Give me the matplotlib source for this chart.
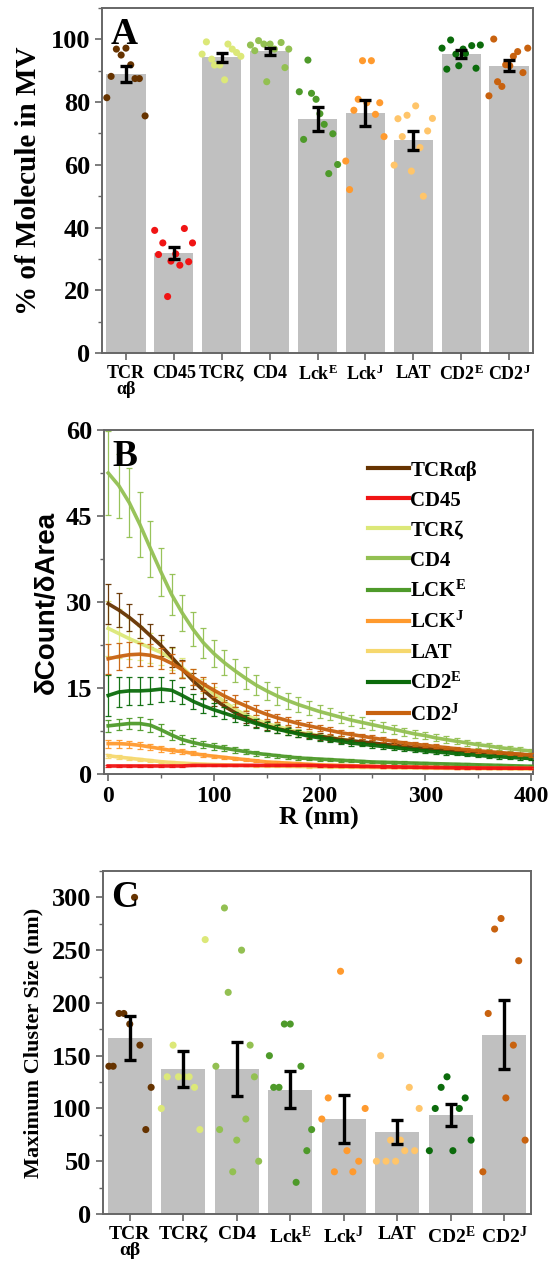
import numpy as np
import matplotlib
matplotlib.use("Agg")
import matplotlib.pyplot as plt
from matplotlib.ticker import MultipleLocator
from matplotlib.lines import Line2D

plt.rcParams['font.family'] = ['Liberation Serif', 'DejaVu Serif']
plt.rcParams['font.weight'] = 'bold'
plt.rcParams['mathtext.fontset'] = 'custom'
plt.rcParams['mathtext.rm'] = 'Liberation Serif:bold'
plt.rcParams['mathtext.it'] = 'Liberation Serif:bold'
plt.rcParams['mathtext.bf'] = 'Liberation Serif:bold'
plt.rcParams['mathtext.default'] = 'rm'

# ---------------- colours ----------------
col_TCRab = '#663300'
col_CD45 = '#F01414'
col_TCRz = '#DCE878'
col_CD4 = '#93C052'
col_LckE = '#4E9A2A'
col_LckJ = '#FF9A2E'
col_LAT = '#FFC56A'
col_CD2E = '#0B6B0B'
col_CD2J = '#C8620F'
BAR_GREY = '#C0C0C0'
SPINE = '#666666'

# ---------------- Panel A data ----------------
A_labels = ["TCR\nαβ", "CD45", "TCRζ", "CD4", "Lck$^E$", "Lck$^J$", "LAT", "CD2$^E$", "CD2$^J$"]
A_colors = [col_TCRab, col_CD45, col_TCRz, col_CD4, col_LckE, col_LckJ, col_LAT, col_CD2E, col_CD2J]
A_means = [89.0, 31.8, 94.3, 96.2, 74.6, 76.6, 67.8, 95.3, 91.6]
A_sem = [2.6, 1.9, 1.4, 1.2, 3.7, 4.1, 3.0, 1.3, 1.7]

A_pts_TCRab = [81.4, 88.2, 96.9, 95.0, 97.2, 91.9, 87.5, 87.5, 75.6]
A_jit_TCRab = [-0.40, -0.31, -0.20, -0.10, 0.0, 0.10, 0.19, 0.28, 0.40]
A_pts_CD45 = [39.1, 31.4, 35.1, 18.0, 29.3, 31.6, 28.0, 39.7, 29.1, 35.1]
A_jit_CD45 = [-0.40, -0.32, -0.23, -0.13, -0.06, 0.04, 0.125, 0.22, 0.31, 0.39]
A_pts_TCRz = [95.3, 99.2, 93.7, 91.8, 91.8, 87.1, 98.5, 96.9, 95.8, 94.6]
A_jit_TCRz = [-0.41, -0.32, -0.21, -0.15, -0.04, 0.06, 0.13, 0.22, 0.31, 0.40]
A_pts_CD4 = [98.2, 96.4, 99.6, 98.5, 86.5, 98.5, 96.9, 99.0, 91.0, 96.9]
A_jit_CD4 = [-0.40, -0.31, -0.23, -0.12, -0.06, 0.01, 0.10, 0.24, 0.32, 0.40]
A_pts_LckE = [83.3, 68.1, 93.4, 82.8, 80.9, 76.3, 72.9, 57.2, 69.9, 60.1]
A_jit_LckE = [-0.38, -0.29, -0.20, -0.125, -0.03, 0.05, 0.14, 0.235, 0.32, 0.42]
A_pts_LckJ = [61.2, 52.1, 77.4, 80.9, 93.2, 79.8, 93.2, 76.1, 79.8, 69.0]
A_jit_LckJ = [-0.41, -0.33, -0.24, -0.15, -0.06, 0.03, 0.125, 0.21, 0.30, 0.39]
A_pts_LAT = [59.9, 74.7, 69.0, 75.8, 58.0, 78.8, 65.5, 50.0, 70.8, 74.8]
A_jit_LAT = [-0.40, -0.32, -0.23, -0.13, -0.04, 0.05, 0.14, 0.21, 0.30, 0.40]
A_pts_CD2E = [97.2, 90.5, 99.8, 95.3, 91.6, 96.9, 95.5, 98.0, 90.8, 98.2]
A_jit_CD2E = [-0.40, -0.30, -0.22, -0.11, -0.05, 0.04, 0.09, 0.22, 0.31, 0.40]
A_pts_CD2J = [82.0, 100.1, 86.5, 85.0, 91.9, 91.6, 94.6, 96.1, 89.4, 97.2]
A_jit_CD2J = [-0.42, -0.32, -0.24, -0.15, -0.07, 0.015, 0.09, 0.18, 0.29, 0.39]

A_points = [A_pts_TCRab, A_pts_CD45, A_pts_TCRz, A_pts_CD4, A_pts_LckE,
            A_pts_LckJ, A_pts_LAT, A_pts_CD2E, A_pts_CD2J]
A_jitter = [A_jit_TCRab, A_jit_CD45, A_jit_TCRz, A_jit_CD4, A_jit_LckE,
            A_jit_LckJ, A_jit_LAT, A_jit_CD2E, A_jit_CD2J]

# ---------------- Panel B data ----------------
R_nm = list(range(0, 401, 10))
B_names = ["TCRαβ", "CD45", "TCRζ", "CD4", "LCK$^E$", "LCK$^J$", "LAT", "CD2$^E$", "CD2$^J$"]
B_colors = [col_TCRab, col_CD45, col_TCRz, col_CD4, col_LckE, col_LckJ, '#F6D86E', col_CD2E, col_CD2J]
B_zorder = [2.4, 3.5, 2.3, 2.2, 2.6, 2.7, 2.5, 2.8, 2.9]

B_TCRab = [29.7, 28.6, 27.3, 25.8, 24.1, 22.4, 20.4, 18.3, 16.3, 14.6,
           13.1, 11.8, 10.7, 9.8, 9.0, 8.4, 7.9, 7.5, 7.1, 6.8,
           6.6, 6.3, 6.0, 5.8, 5.6, 5.4, 5.2, 5.0, 4.8, 4.6,
           4.5, 4.3, 4.2, 4.1, 3.9, 3.8, 3.7, 3.6, 3.5, 3.4, 3.3]
B_TCRab_err = [3.5, 3.0, 2.4, 2.1, 2.0, 1.8, 1.7, 1.5, 1.4, 1.3,
               1.2, 1.1, 1.0, 0.9, 0.85, 0.8, 0.75, 0.7, 0.65, 0.6,
               0.6, 0.55, 0.55, 0.5, 0.5, 0.45, 0.45, 0.45, 0.4, 0.4,
               0.4, 0.4, 0.35, 0.35, 0.35, 0.35, 0.3, 0.3, 0.3, 0.3, 0.3]
B_CD45 = [1.4, 1.4, 1.4, 1.4, 1.4, 1.4, 1.4, 1.4, 1.5, 1.5,
          1.5, 1.5, 1.5, 1.5, 1.5, 1.5, 1.5, 1.5, 1.5, 1.5,
          1.45, 1.4, 1.38, 1.35, 1.32, 1.3, 1.27, 1.24, 1.21, 1.18,
          1.15, 1.13, 1.11, 1.09, 1.07, 1.05, 1.04, 1.03, 1.02, 1.01, 1.0]
B_CD45_err = [0.15] * 41
B_TCRz = [25.4, 24.5, 23.6, 22.8, 22.0, 21.2, 20.1, 18.6, 16.9, 15.3,
          14.0, 12.6, 11.3, 10.3, 9.5, 8.8, 8.3, 7.8, 7.3, 7.0,
          6.7, 6.4, 6.1, 5.8, 5.5, 5.3, 5.1, 4.9, 4.7, 4.5,
          4.3, 4.1, 4.0, 3.9, 3.8, 3.6, 3.5, 3.4, 3.3, 3.2, 3.1]
B_TCRz_err = [4.8, 4.2, 3.6, 3.0, 2.6, 2.2, 1.9, 1.6, 1.4, 1.2,
              1.1, 1.0, 0.9, 0.8, 0.75, 0.7, 0.65, 0.6, 0.55, 0.5,
              0.5, 0.45, 0.45, 0.4, 0.4, 0.4, 0.35, 0.35, 0.35, 0.3,
              0.3, 0.3, 0.3, 0.3, 0.25, 0.25, 0.25, 0.25, 0.25, 0.25, 0.25]
B_CD4 = [52.5, 50.3, 47.3, 43.5, 39.3, 35.2, 31.3, 28.1, 25.3, 22.9,
         21.0, 19.4, 18.0, 16.7, 15.5, 14.5, 13.6, 12.8, 12.1, 11.5,
         10.9, 10.4, 9.9, 9.4, 9.0, 8.6, 8.2, 7.8, 7.4, 7.0,
         6.7, 6.3, 6.0, 5.7, 5.4, 5.1, 4.9, 4.6, 4.4, 4.2, 4.0]
B_CD4_err = [7.3, 5.6, 6.0, 5.6, 4.9, 4.2, 3.6, 3.1, 2.9, 2.6,
             2.4, 2.2, 2.0, 1.9, 1.7, 1.6, 1.5, 1.4, 1.3, 1.2,
             1.1, 1.05, 1.0, 0.95, 0.9, 0.85, 0.8, 0.75, 0.7, 0.7,
             0.65, 0.6, 0.6, 0.55, 0.55, 0.5, 0.5, 0.45, 0.45, 0.45, 0.4]
B_LckE = [8.4, 8.6, 8.8, 8.8, 8.5, 7.7, 6.8, 6.0, 5.5, 5.1,
          4.8, 4.5, 4.2, 3.9, 3.6, 3.4, 3.2, 3.0, 2.8, 2.7,
          2.6, 2.5, 2.4, 2.3, 2.2, 2.1, 2.05, 2.0, 1.95, 1.9,
          1.85, 1.8, 1.75, 1.7, 1.65, 1.6, 1.55, 1.5, 1.45, 1.4, 1.35]
B_LckE_err = [1.0, 1.0, 1.0, 1.1, 1.1, 1.0, 0.9, 0.8, 0.7, 0.6,
              0.55, 0.5, 0.45, 0.4, 0.4, 0.35, 0.35, 0.3, 0.3, 0.3,
              0.25, 0.25, 0.25, 0.25, 0.25, 0.25, 0.25, 0.25, 0.25, 0.25,
              0.2, 0.2, 0.2, 0.2, 0.2, 0.2, 0.2, 0.2, 0.2, 0.2, 0.2]
B_LckJ = [5.3, 5.3, 5.2, 5.0, 4.7, 4.4, 4.1, 3.9, 3.6, 3.3,
          3.1, 2.9, 2.7, 2.5, 2.3, 2.1, 2.0, 1.9, 1.8, 1.7,
          1.6, 1.55, 1.5, 1.45, 1.4, 1.35, 1.3, 1.27, 1.24, 1.21,
          1.18, 1.15, 1.12, 1.1, 1.08, 1.06, 1.04, 1.02, 1.0, 1.0, 1.0]
B_LckJ_err = [0.7, 0.7, 0.6, 0.6, 0.55, 0.5, 0.45, 0.4, 0.35, 0.3,
              0.3, 0.25, 0.25, 0.25, 0.25, 0.25, 0.25, 0.25, 0.25, 0.25,
              0.2, 0.2, 0.2, 0.2, 0.2, 0.2, 0.2, 0.2, 0.2, 0.2,
              0.15, 0.15, 0.15, 0.15, 0.15, 0.15, 0.15, 0.15, 0.15, 0.15, 0.15]
B_LAT = [3.2, 2.95, 2.75, 2.55, 2.35, 2.15, 2.0, 1.9, 1.8, 1.72,
         1.65, 1.6, 1.55, 1.5, 1.45, 1.4, 1.37, 1.34, 1.31, 1.28,
         1.25, 1.22, 1.2, 1.18, 1.16, 1.14, 1.12, 1.1, 1.08, 1.06,
         1.04, 1.02, 1.0, 0.98, 0.96, 0.95, 0.94, 0.93, 0.92, 0.91, 0.9]
B_LAT_err = [0.35, 0.3, 0.3, 0.25, 0.25, 0.2, 0.2, 0.2, 0.15, 0.15,
             0.15, 0.15, 0.15, 0.15, 0.15, 0.15, 0.15, 0.15, 0.15, 0.15,
             0.1, 0.1, 0.1, 0.1, 0.1, 0.1, 0.1, 0.1, 0.1, 0.1,
             0.1, 0.1, 0.1, 0.1, 0.1, 0.1, 0.1, 0.1, 0.1, 0.1, 0.1]
B_CD2E = [13.7, 14.3, 14.5, 14.5, 14.6, 14.8, 14.6, 13.7, 12.7, 11.9,
          11.2, 10.6, 10.0, 9.4, 8.8, 8.3, 7.8, 7.4, 7.0, 6.6,
          6.3, 6.0, 5.7, 5.4, 5.2, 5.0, 4.8, 4.6, 4.4, 4.2,
          4.0, 3.85, 3.7, 3.55, 3.4, 3.25, 3.1, 3.0, 2.9, 2.8, 2.7]
B_CD2E_err = [3.5, 2.6, 2.5, 2.4, 2.4, 2.2, 1.8, 1.5, 1.3, 1.2,
              1.1, 1.0, 0.9, 0.85, 0.8, 0.75, 0.7, 0.65, 0.6, 0.55,
              0.5, 0.5, 0.45, 0.45, 0.4, 0.4, 0.4, 0.35, 0.35, 0.35,
              0.3, 0.3, 0.3, 0.3, 0.3, 0.3, 0.3, 0.3, 0.3, 0.3, 0.3]
B_CD2J = [20.1, 20.5, 20.8, 20.9, 20.7, 20.2, 19.3, 18.2, 16.9, 15.7,
          14.6, 13.6, 12.7, 11.9, 11.1, 10.4, 9.8, 9.3, 8.8, 8.4,
          8.0, 7.6, 7.2, 6.9, 6.6, 6.3, 6.0, 5.7, 5.4, 5.2,
          5.0, 4.8, 4.6, 4.4, 4.2, 4.05, 3.9, 3.75, 3.6, 3.45, 3.3]
B_CD2J_err = [2.6, 2.4, 2.2, 2.0, 1.9, 1.8, 1.6, 1.5, 1.4, 1.3,
              1.2, 1.1, 1.0, 0.9, 0.85, 0.8, 0.75, 0.7, 0.65, 0.6,
              0.55, 0.55, 0.5, 0.5, 0.45, 0.45, 0.4, 0.4, 0.4, 0.35,
              0.35, 0.35, 0.3, 0.3, 0.3, 0.3, 0.3, 0.3, 0.3, 0.3, 0.3]

B_series = [B_TCRab, B_CD45, B_TCRz, B_CD4, B_LckE, B_LckJ, B_LAT, B_CD2E, B_CD2J]
B_errors = [B_TCRab_err, B_CD45_err, B_TCRz_err, B_CD4_err, B_LckE_err,
            B_LckJ_err, B_LAT_err, B_CD2E_err, B_CD2J_err]

# ---------------- Panel C data ----------------
C_labels = ["TCR\nαβ", "TCRζ", "CD4", "Lck$^E$", "Lck$^J$", "LAT", "CD2$^E$", "CD2$^J$"]
C_colors = [col_TCRab, col_TCRz, col_CD4, col_LckE, col_LckJ, col_LAT, col_CD2E, col_CD2J]
C_means = [166.7, 137.8, 137.3, 117.8, 90.0, 78.0, 93.8, 170.0]
C_sem = [21.0, 17.0, 25.5, 17.7, 22.5, 11.3, 10.0, 32.8]

C_pts_TCRab = [140, 140, 190, 190, 180, 300, 160, 80, 120]
C_jit_TCRab = [-0.39, -0.31, -0.20, -0.11, 0.0, 0.09, 0.19, 0.30, 0.40]
C_pts_TCRz = [100, 130, 160, 130, 130, 130, 120, 80, 260]
C_jit_TCRz = [-0.41, -0.30, -0.19, -0.09, 0.02, 0.11, 0.21, 0.31, 0.41]
C_pts_CD4 = [140, 80, 290, 210, 40, 70, 250, 90, 160, 130, 50]
C_jit_CD4 = [-0.39, -0.32, -0.23, -0.16, -0.075, 0.0, 0.09, 0.17, 0.25, 0.33, 0.41]
C_pts_LckE = [150, 120, 120, 180, 180, 30, 140, 60, 80]
C_jit_LckE = [-0.39, -0.31, -0.21, -0.11, 0.0, 0.11, 0.20, 0.31, 0.40]
C_pts_LckJ = [90, 110, 40, 230, 60, 40, 50, 100]
C_jit_LckJ = [-0.41, -0.29, -0.175, -0.06, 0.06, 0.17, 0.28, 0.40]
C_pts_LAT = [50, 150, 50, 70, 50, 70, 60, 120, 60, 100]
C_jit_LAT = [-0.39, -0.31, -0.21, -0.125, -0.03, 0.06, 0.14, 0.225, 0.325, 0.41]
C_pts_CD2E = [60, 100, 120, 130, 60, 100, 110, 70]
C_jit_CD2E = [-0.40, -0.29, -0.18, -0.07, 0.04, 0.16, 0.27, 0.38]
C_pts_CD2J = [40, 190, 270, 280, 110, 160, 240, 70]
C_jit_CD2J = [-0.40, -0.30, -0.18, -0.06, 0.03, 0.17, 0.27, 0.39]

C_points = [C_pts_TCRab, C_pts_TCRz, C_pts_CD4, C_pts_LckE, C_pts_LckJ,
            C_pts_LAT, C_pts_CD2E, C_pts_CD2J]
C_jitter = [C_jit_TCRab, C_jit_TCRz, C_jit_CD4, C_jit_LckE, C_jit_LckJ,
            C_jit_LAT, C_jit_CD2E, C_jit_CD2J]

# ---------------- figure ----------------
W, H = 551, 1266
fig = plt.figure(figsize=(W / 100, H / 100), dpi=100)
axA = fig.add_axes([102 / W, 1 - 353 / H, 431 / W, 345 / H])
axB = fig.add_axes([104 / W, 1 - 774 / H, 429 / W, 344 / H])
axC = fig.add_axes([103 / W, 1 - 1214 / H, 428 / W, 343 / H])


def style_axes(ax):
    for s in ax.spines.values():
        s.set_color(SPINE)
        s.set_linewidth(1.4)
    ax.tick_params(which='major', direction='out', length=5, width=1.2, color=SPINE)
    ax.tick_params(which='minor', direction='out', length=3, width=1.0, color=SPINE)
    ax.tick_params(top=False, right=False)


def bar_panel(ax, labels, colors, means, sem, points, jitter, ymax, ymaj, ymin_, xfs):
    x = np.arange(len(labels))
    ax.bar(x, means, width=0.82, color=BAR_GREY, zorder=1)
    for i in range(len(labels)):
        ax.scatter(x[i] + np.array(jitter[i]), points[i], s=26, color=colors[i],
                   edgecolors='none', zorder=2)
    ax.errorbar(x, means, yerr=sem, fmt='none', ecolor='black', elinewidth=2.4,
                capsize=4, capthick=2.4, zorder=3)
    ax.set_xlim(-0.5, len(labels) - 0.5)
    ax.set_ylim(0, ymax)
    ax.set_xticks(x)
    ax.set_xticklabels(labels, fontsize=xfs, fontweight='bold', linespacing=0.95)
    ax.yaxis.set_major_locator(MultipleLocator(ymaj))
    ax.yaxis.set_minor_locator(MultipleLocator(ymin_))
    for t in ax.get_yticklabels():
        t.set_fontsize(19)
        t.set_fontweight('bold')
    style_axes(ax)


# Panel A
bar_panel(axA, A_labels, A_colors, A_means, A_sem, A_points, A_jitter, 110, 20, 10, 13)
axA.set_ylabel("% of Molecule in MV", fontsize=21, fontweight='bold', labelpad=6)
axA.text(0.02, 0.975, "A", transform=axA.transAxes, fontsize=27, fontweight='bold',
         va='top', ha='left')

# Panel B
handles = []
for name, c, y, e, z in zip(B_names, B_colors, B_series, B_errors, B_zorder):
    axB.errorbar(R_nm, y, yerr=e, color=c, lw=2.6, elinewidth=0.9, capsize=2.2,
                 capthick=0.9, alpha=0.95, zorder=z)
    handles.append(Line2D([0], [0], color=c, lw=3))
axB.set_xlim(-4, 402)
axB.set_ylim(0, 60)
axB.xaxis.set_major_locator(MultipleLocator(100))
axB.xaxis.set_minor_locator(MultipleLocator(50))
axB.yaxis.set_major_locator(MultipleLocator(15))
axB.yaxis.set_minor_locator(MultipleLocator(7.5))
for t in axB.get_yticklabels():
    t.set_fontsize(19)
for t in axB.get_xticklabels():
    t.set_fontsize(17)
axB.set_xlabel("R (nm)", fontsize=19, fontweight='bold', labelpad=0)
axB.set_ylabel("δCount/δArea", fontsize=20, fontweight='bold',
               family=['Liberation Sans', 'DejaVu Sans'], labelpad=4)
style_axes(axB)
axB.text(0.02, 0.975, "B", transform=axB.transAxes, fontsize=27, fontweight='bold',
         va='top', ha='left')
leg = axB.legend(handles, B_names, loc='upper left', bbox_to_anchor=(0.595, 0.935),
                 frameon=False, fontsize=15, handlelength=2.0, handletextpad=0.05,
                 labelspacing=0.48, borderaxespad=0.0)
for t in leg.get_texts():
    t.set_fontweight('bold')

# Panel C
bar_panel(axC, C_labels, C_colors, C_means, C_sem, C_points, C_jitter, 325, 50, 25, 14)
axC.set_ylabel("Maximum Cluster Size (nm)", fontsize=16, fontweight='bold', labelpad=6)
axC.text(0.02, 0.975, "C", transform=axC.transAxes, fontsize=27, fontweight='bold',
         va='top', ha='left')

fig.savefig("out.png", dpi=100)
